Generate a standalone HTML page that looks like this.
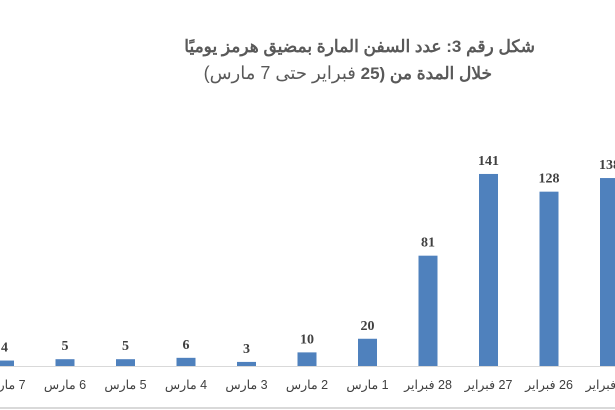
<!DOCTYPE html>
<html><head><meta charset="utf-8"><style>
body{margin:0;width:615px;height:410px;background:#fff;overflow:hidden;position:relative;font-family:"Liberation Sans",sans-serif}
.t{position:absolute;direction:rtl;white-space:nowrap;color:#595959;font-size:17px;font-weight:bold}
</style></head><body>
<div class="t" style="right:80px;top:37px">شكل رقم 3: عدد السفن المارة بمضيق هرمز يوميًا</div>
<div class="t" style="right:123px;top:63px">خلال المدة من (25 <span style="font-weight:normal;font-size:18px">فبراير حتى 7 مارس)</span></div>
<svg width="615" height="410" style="position:absolute;left:0;top:0">
<line x1="0" y1="366.5" x2="615" y2="366.5" stroke="#d9d9d9"/>
<line x1="0" y1="408" x2="615" y2="408" stroke="#d9d9d9" stroke-width="2"/>
<g fill="#4f81bd" id="b"></g>
<g font-family="Liberation Serif,serif" font-weight="bold" font-size="14" fill="#404040" text-anchor="middle" id="v"></g>
<g font-family="Liberation Sans,sans-serif" font-size="12.5" fill="#404040" text-anchor="middle" id="l"></g>
</svg>
<script>
var vals=[4,5,5,6,3,10,20,81,141,128,138],labs=["7 مارس","6 مارس","5 مارس","4 مارس","3 مارس","2 مارس","1 مارس","28 فبراير","27 فبراير","26 فبراير","25 فبراير"];
var b="",v="",l="";
for(var i=0;i<11;i++){var c=4.5+60.5*i,h=vals[i]*1.362,y=366-h;
b+='<rect x="'+(c-9.5)+'" y="'+y+'" width="19" height="'+h+'"/>';
v+='<text x="'+c+'" y="'+(y-9)+'">'+vals[i]+'</text>';
l+='<text x="'+c+'" y="389" direction="rtl">'+labs[i]+'</text>';}
document.getElementById('b').innerHTML=b;document.getElementById('v').innerHTML=v;document.getElementById('l').innerHTML=l;
</script>
</body></html>
